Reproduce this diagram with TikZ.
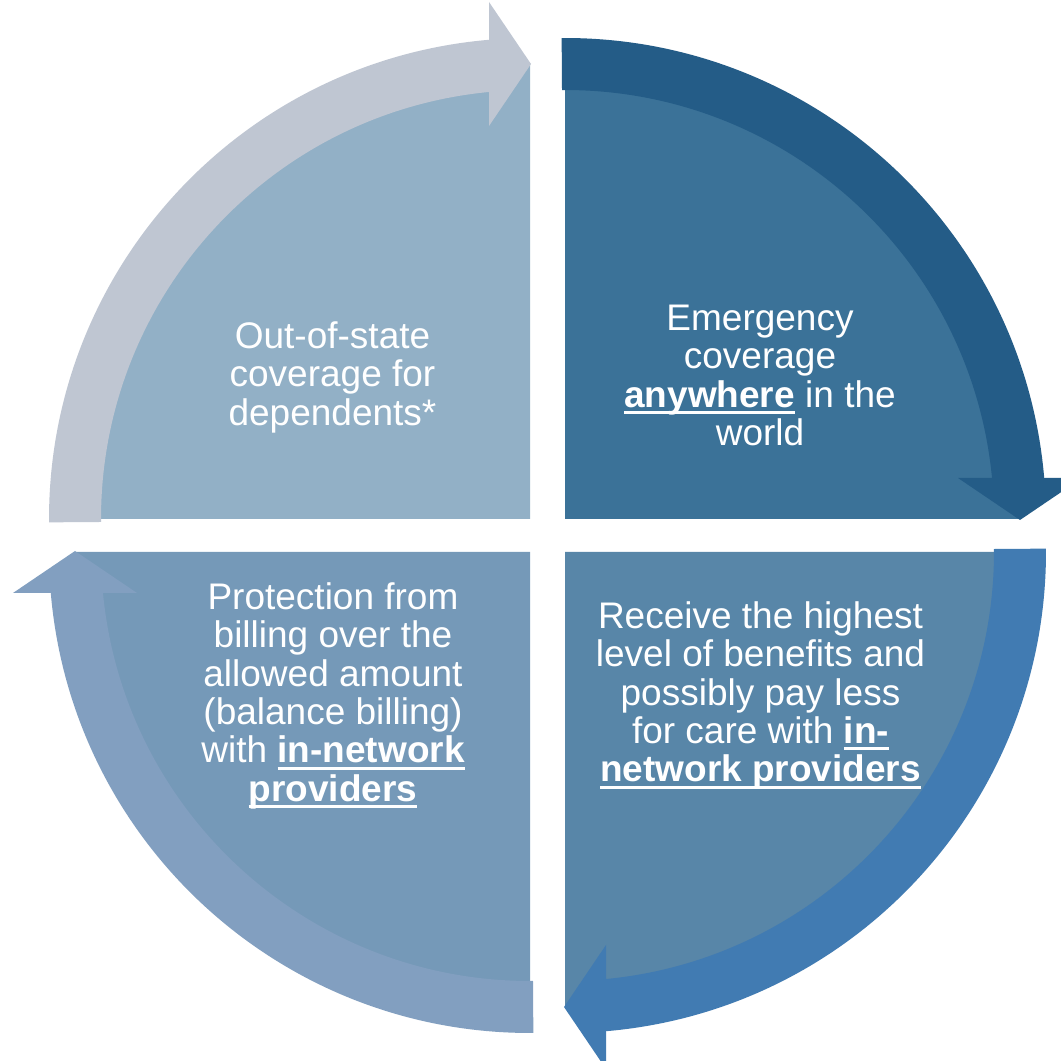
\documentclass[tikz,border=0pt]{standalone}
\usepackage{fontspec}
\setmainfont{Liberation Sans}

% quadrant fills and their circular arrow bands
\definecolor{trband}{HTML}{245C87}
\definecolor{trfill}{HTML}{3B7298}
\definecolor{brband}{HTML}{417BB2}
\definecolor{brfill}{HTML}{5886A8}
\definecolor{blband}{HTML}{829FC0}
\definecolor{blfill}{HTML}{7599B8}
\definecolor{tlband}{HTML}{BFC6D2}
\definecolor{tlfill}{HTML}{92B0C6}

% bold, underlined words with the rule close under the baseline
\newcommand\ulb[1]{\setbox0=\hbox{\bfseries #1}\rlap{\rule[-7pt]{\wd0}{3.3pt}}\box0\relax}
% centred lines with a fixed baseline distance; the box baseline is the first line
\newcommand\stacklines[2]{\vtop{\baselineskip=#1\lineskiplimit=-1000pt\lineskip=0pt
  \halign{\hfil##\hfil\cr#2\crcr}}}

% one quarter: fill, arc shaft and arrow head, drawn for the upper right
% quarter and turned clockwise about its own corner for the others
\newcommand\quarterpiece[4]{%
  \begin{scope}[shift={#1}, rotate=#2]
    \fill[#3] (0,0) -- (0:455pt) arc[start angle=0, end angle=90, radius=455pt] -- cycle;
    \fill[#4] (90.4:481pt) arc[start angle=90.4, end angle=4.65, radius=481pt]
      -- (5.22:429pt) arc[start angle=5.22, end angle=90.4, radius=429pt] -- cycle;
    \fill[#4] (393,41) -- (517,41) -- (455,-1) -- cycle;
  \end{scope}}

\tikzset{
  lbl/.style={text=white, inner sep=0pt, anchor=base, font=\fontsize{37}{44}\selectfont}
}

\begin{document}
\begin{tikzpicture}[x=1pt, y=1pt]
  \useasboundingbox (0,0) rectangle (1061,1061);
  \clip (0,0) rectangle (1061,1061);
  \fill[white] (0,0) rectangle (1061,1061);

  \quarterpiece{(565,542)}{0}{trfill}{trband}
  \quarterpiece{(565,509)}{-90}{brfill}{brband}
  \quarterpiece{(530,509)}{-180}{blfill}{blband}
  \quarterpiece{(530,542)}{90}{tlfill}{tlband}

  \node[lbl] (outofstate) at (332.5,712.5)
    {\stacklines{38.4pt}{Out-of-state\cr coverage for\cr dependents*}};
  \node[lbl] (emergency) at (760,730.5)
    {\stacklines{38.4pt}{Emergency\cr coverage\cr \ulb{anywhere} in the\cr world}};
  \node[lbl] (benefits) at (760.5,432.7)
    {\stacklines{38.4pt}{Receive the highest\cr level of benefits and\cr possibly pay less\cr
      for care with \ulb{in-}\cr \ulb{network providers}}};
  \node[lbl] (protection) at (333,451.7)
    {\stacklines{38.4pt}{Protection from\cr billing over the\cr allowed amount\cr
      (balance billing)\cr with \ulb{in-network}\cr \ulb{providers}}};
\end{tikzpicture}
\end{document}
